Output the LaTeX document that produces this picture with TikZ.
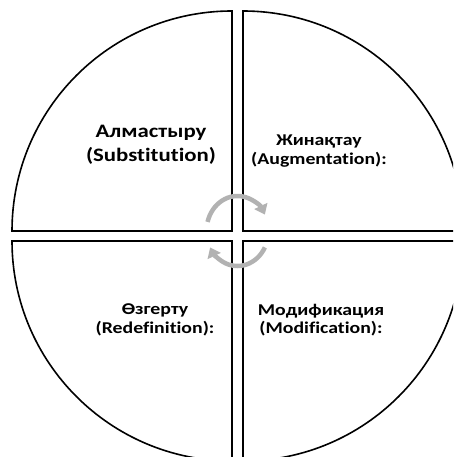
\documentclass[tikz,border=0pt]{standalone}
\usepackage{fontspec}
\setmainfont{Carlito}
\newfontfamily\lblfont{Carlito}[FakeStretch=1.2,Ligatures={NoCommon}]
\usetikzlibrary{arrows.meta}
\tikzset{
  sector/.style={draw=black, line width=1.6pt, fill=white, line join=miter},
  cyc/.style={draw=gray!60, line width=4.5pt, -{Triangle[width=14pt,length=9.5pt]}},
  lbl/.style={align=center, font=\lblfont\bfseries\fontsize{16.5}{18.5}\selectfont, inner sep=0pt},
  biglbl/.style={align=center, font=\lblfont\bfseries\fontsize{19}{24}\selectfont, inner sep=0pt}
}
\begin{document}
\begin{tikzpicture}[x=1pt,y=1pt]
\useasboundingbox (0,0) rectangle (453,457);
\clip (0,0) rectangle (453,457);
% four quarter sectors
\path[sector] (232,226) -- ++(0,220) arc[start angle=90,end angle=180,radius=220] -- cycle;
\path[sector] (243,226) -- ++(220,0) arc[start angle=0,end angle=90,radius=220] -- cycle;
\path[sector] (232,216) -- ++(-220,0) arc[start angle=180,end angle=270,radius=220] -- cycle;
\path[sector] (243,216) -- ++(0,-220) arc[start angle=270,end angle=360,radius=220] -- cycle;
% cycle arrows
\coordinate (c) at (237.5,226);
\draw[cyc] ([shift={(165:31 and 35)}]c) arc[start angle=165,end angle=28,x radius=31,y radius=35];
\draw[cyc] ([shift={(-28:31 and 35)}]c) arc[start angle=-28,end angle=-152,x radius=31,y radius=35];
% labels
\node[biglbl] (sub) at (151,312) {Алмастыру\\(Substitution)};
\node[lbl] (aug) at (319,306) {Жинақтау\\(Augmentation):};
\node[lbl] (red) at (155,137) {Өзгерту\\(Redefinition):};
\node[lbl] (mod) at (321,137) {Модификация\\(Modification):};
\end{tikzpicture}
\end{document}
